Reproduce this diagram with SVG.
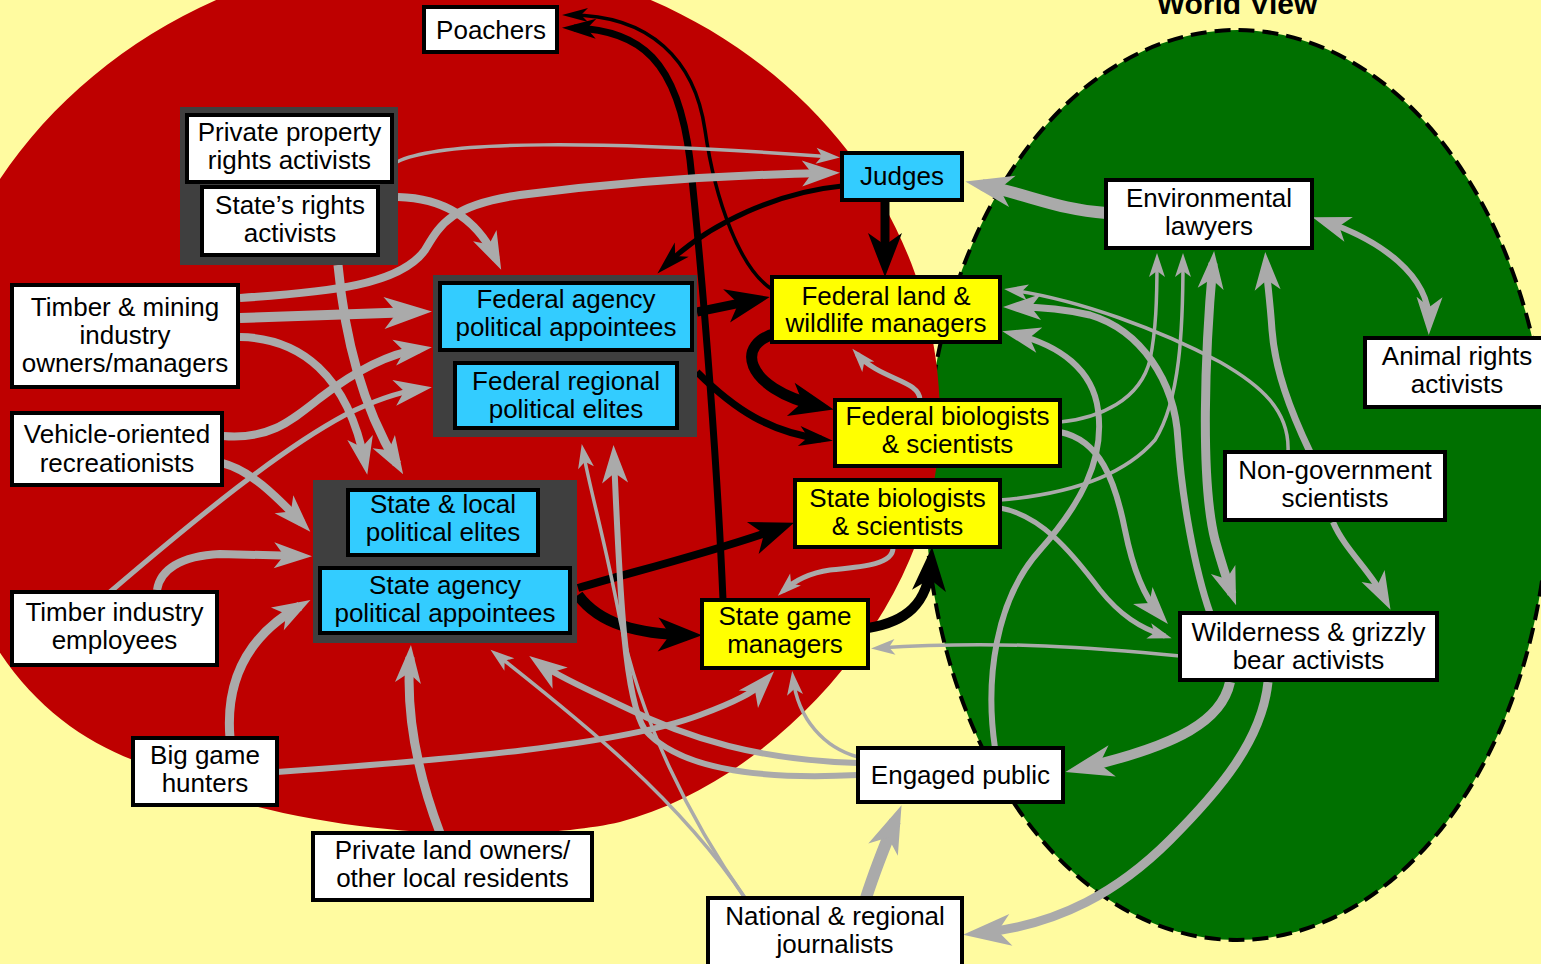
<svg xmlns="http://www.w3.org/2000/svg" width="1541" height="964" viewBox="0 0 1541 964">
<style>
.bg{fill:#FFFBA0}
.node rect{stroke:#000;stroke-width:4}
.w{fill:#FFFFFF}
.c{fill:#33CCFF}
.y{fill:#FFFF00}
.grp{fill:#3F3F3F}
text{font-family:"Liberation Sans",Arial,sans-serif;font-size:26px;text-anchor:middle;fill:#000}
.title{font-weight:bold;font-size:30px}
#connectors path{fill:none}
.g{stroke:#AAAAAA}
.k{stroke:#000000}
.s3{stroke-width:3.5}.s5{stroke-width:5}.s6{stroke-width:6}.s7{stroke-width:7}.s8{stroke-width:8}.s9{stroke-width:9}.s10{stroke-width:10}.s11{stroke-width:11}.s12{stroke-width:12}
</style>
<defs>
<marker id="gS" markerUnits="userSpaceOnUse" viewBox="-26 -10 28 20" markerWidth="28" markerHeight="20" refX="-7" refY="0" orient="auto-start-reverse" overflow="visible"><path d="M0,0 L-24,-8 L-18,0 L-24,8 Z" fill="#AAAAAA"/></marker>
<marker id="gM" markerUnits="userSpaceOnUse" viewBox="-40 -15 42 30" markerWidth="42" markerHeight="30" refX="-12" refY="0" orient="auto-start-reverse" overflow="visible"><path d="M0,0 L-38,-13 L-28,0 L-38,13 Z" fill="#AAAAAA"/></marker>
<marker id="gL" markerUnits="userSpaceOnUse" viewBox="-50 -18 52 36" markerWidth="52" markerHeight="36" refX="-17" refY="0" orient="auto-start-reverse" overflow="visible"><path d="M0,0 L-48,-16 L-35,0 L-48,16 Z" fill="#AAAAAA"/></marker>
<marker id="bS" markerUnits="userSpaceOnUse" viewBox="-28 -9 30 18" markerWidth="30" markerHeight="18" refX="-8" refY="0" orient="auto-start-reverse" overflow="visible"><path d="M0,0 L-26,-7 L-19,0 L-26,7 Z" fill="#000"/></marker>
<marker id="bM" markerUnits="userSpaceOnUse" viewBox="-36 -12 38 24" markerWidth="38" markerHeight="24" refX="-12" refY="0" orient="auto-start-reverse" overflow="visible"><path d="M0,0 L-34,-10 L-25,0 L-34,10 Z" fill="#000"/></marker>
<marker id="bL" markerUnits="userSpaceOnUse" viewBox="-46 -19 48 38" markerWidth="48" markerHeight="38" refX="-15" refY="0" orient="auto-start-reverse" overflow="visible"><path d="M0,0 L-44,-17 L-32,0 L-44,17 Z" fill="#000"/></marker>
</defs>
<rect class="bg" x="0" y="0" width="1541" height="964"/>
<ellipse cx="1237" cy="485" rx="312" ry="455" fill="#007000" stroke="#000" stroke-width="4" stroke-dasharray="16 8"/>
<path d="M-70,400 C-70,170 150,-40 420,-45 C700,-50 940,150 940,420 C940,600 780,780 620,822 C520,845 280,840 133,760 C30,720 -60,620 -70,400 Z" fill="#BE0000"/>
<text class="title" x="1237" y="14">World View</text>
<g id="connectors">
<path class="k s7" d="M723,600 C718,480 705,300 690,160 C678,60 640,30 574,28" marker-end="url(#bM)"/>
<path class="k s3" d="M773,290 C740,270 715,200 705,130 C695,60 650,15 570,15" marker-end="url(#bS)"/>
<path class="k s9" d="M885,201 L885,262" marker-end="url(#bL)"/>
<path class="k s5" d="M842,186 C780,192 710,222 666,265" marker-end="url(#bM)"/>
<path class="k s9" d="M697,312 L755,300" marker-end="url(#bL)"/>
<path class="k s11" d="M778,333 C735,342 742,388 819,406" marker-end="url(#bL)"/>
<path class="k s7" d="M697,372 C735,410 770,432 821,439" marker-end="url(#bM)"/>
<path class="k s8" d="M578,588 C640,570 720,550 780,528" marker-end="url(#bL)"/>
<path class="k s11" d="M578,595 C600,625 640,634 687,635" marker-end="url(#bL)"/>
<path class="k s10" d="M868,628 C905,622 928,605 931,562" marker-end="url(#bL)"/>
<path class="g s3" d="M397,162 C440,140 600,140 833,157" marker-end="url(#gS)"/>
<path class="g s8" d="M240,298 C330,292 400,285 425,250 C440,225 450,205 520,195 C620,182 720,175 828,173" marker-end="url(#gM)"/>
<path class="g s8" d="M398,197 C440,198 475,215 496,259" marker-end="url(#gM)"/>
<path class="g s9" d="M338,265 C345,340 362,405 397,464" marker-end="url(#gM)"/>
<path class="g s8" d="M240,337 C300,338 348,375 365,463" marker-end="url(#gM)"/>
<path class="g s10" d="M240,318 L415,312" marker-end="url(#gL)"/>
<path class="g s8" d="M223,436 C270,440 292,420 320,398 C350,375 385,354 420,349" marker-end="url(#gM)"/>
<path class="g s5" d="M110,592 C200,515 280,450 345,415 C375,400 400,392 420,389" marker-end="url(#gM)"/>
<path class="g s8" d="M222,463 C250,470 275,495 302,523" marker-end="url(#gM)"/>
<path class="g s8" d="M157,590 C160,570 180,556 220,554 L300,556" marker-end="url(#gM)"/>
<path class="g s9" d="M230,738 C226,690 240,640 300,606" marker-end="url(#gM)"/>
<path class="g s6" d="M277,772 C450,760 620,745 700,715 C735,702 755,692 766,680" marker-end="url(#gM)"/>
<path class="g s9" d="M440,833 C420,780 405,720 410,657" marker-end="url(#gM)"/>
<path class="g s3" d="M745,898 C680,800 580,720 496,654" marker-end="url(#gS)"/>
<path class="g s3" d="M745,898 C690,820 640,720 620,620 C605,540 590,490 583,451" marker-end="url(#gS)"/>
<path class="g s6" d="M858,763 C760,760 690,740 620,705 C590,690 560,678 539,663" marker-end="url(#gM)"/>
<path class="g s6" d="M858,775 C760,780 680,770 645,730 C625,700 620,600 614,457" marker-end="url(#gM)"/>
<path class="g s3" d="M858,757 C825,748 798,720 793,678" marker-end="url(#gS)"/>
<path class="g s3" d="M1180,656 C1100,648 1000,640 878,648" marker-end="url(#gS)"/>
<path class="g s5" d="M893,548 C893,565 860,567 830,570 C810,573 795,580 783,591" marker-end="url(#gS)"/>
<path class="g s5" d="M920,400 C920,380 880,380 857,354" marker-end="url(#gS)"/>
<path class="g s12" d="M1106,213 C1060,210 1030,195 982,185" marker-end="url(#gL)"/>
<path class="g s6" d="M1324,221 C1380,240 1430,275 1429,323" marker-start="url(#gM)" marker-end="url(#gM)"/>
<path class="g s3" d="M1060,422 C1100,418 1140,400 1150,360 C1156,330 1157,300 1157,260" marker-end="url(#gS)"/>
<path class="g s3" d="M1000,500 C1060,495 1120,480 1155,440 C1180,400 1183,330 1183,260" marker-end="url(#gS)"/>
<path class="g s9" d="M1213,263 C1205,350 1200,480 1215,540 C1222,565 1228,583 1232,594" marker-start="url(#gM)" marker-end="url(#gM)"/>
<path class="g s7" d="M1310,452 C1290,410 1275,370 1272,330 C1270,300 1267,280 1266,264" marker-end="url(#gM)"/>
<path class="g s3" d="M1288,452 C1290,410 1260,385 1220,362 C1160,330 1080,300 1011,290" marker-end="url(#gS)"/>
<path class="g s7" d="M1210,613 C1195,570 1182,500 1178,440 C1175,380 1140,330 1090,315 C1060,308 1035,307 1015,307" marker-end="url(#gM)"/>
<path class="g s6" d="M995,748 C985,680 995,600 1040,550 C1080,505 1105,460 1098,410 C1093,370 1060,345 1014,334" marker-end="url(#gM)"/>
<path class="g s6" d="M1060,432 C1100,440 1115,480 1125,530 C1133,570 1145,598 1160,615" marker-end="url(#gM)"/>
<path class="g s5" d="M1000,508 C1040,515 1070,550 1100,590 C1120,615 1140,628 1165,636" marker-end="url(#gS)"/>
<path class="g s6" d="M1333,522 C1345,550 1370,570 1385,599" marker-end="url(#gM)"/>
<path class="g s10" d="M1230,682 C1222,720 1180,745 1082,768" marker-end="url(#gL)"/>
<path class="g s9" d="M1268,682 C1262,740 1220,790 1170,840 C1120,890 1060,925 980,933" marker-end="url(#gL)"/>
<path class="g s12" d="M866,898 C875,870 885,845 895,821" marker-end="url(#gL)"/>
</g>
<g id="poachers" class="node"><rect class="w" x="424" y="7" width="133" height="45"/><text x="491" y="39">Poachers</text></g>
<g id="activists-group" class="node"><rect class="grp" x="180" y="107" width="218" height="158" style="stroke:none"/></g>
<g id="private-property" class="node"><rect class="w" x="187" y="115" width="205" height="67"/><text x="289.5" y="141">Private property</text><text x="289.5" y="169">rights activists</text></g>
<g id="states-rights" class="node"><rect class="w" x="202" y="187" width="176" height="68"/><text x="290" y="214">State’s rights</text><text x="290" y="242">activists</text></g>
<g id="timber-mining" class="node"><rect class="w" x="12" y="285" width="226" height="102"/><text x="125" y="316">Timber &amp; mining</text><text x="125" y="344">industry</text><text x="125" y="372">owners/managers</text></g>
<g id="vehicle" class="node"><rect class="w" x="12" y="413" width="210" height="72"/><text x="117" y="443">Vehicle-oriented</text><text x="117" y="472">recreationists</text></g>
<g id="timber-employees" class="node"><rect class="w" x="12" y="592" width="205" height="73"/><text x="114.5" y="621">Timber industry</text><text x="114.5" y="649">employees</text></g>
<g id="big-game" class="node"><rect class="w" x="133" y="738" width="144" height="67"/><text x="205" y="764">Big game</text><text x="205" y="792">hunters</text></g>
<g id="private-land" class="node"><rect class="w" x="313" y="833" width="279" height="67"/><text x="452.5" y="859">Private land owners/</text><text x="452.5" y="887">other local residents</text></g>
<g id="journalists" class="node"><rect class="w" x="708" y="898" width="254" height="72"/><text x="835" y="925">National &amp; regional</text><text x="835" y="953">journalists</text></g>
<g id="engaged-public" class="node"><rect class="w" x="858" y="748" width="205" height="54"/><text x="960.5" y="784">Engaged public</text></g>
<g id="wilderness" class="node"><rect class="w" x="1180" y="613" width="257" height="67"/><text x="1308.5" y="641">Wilderness &amp; grizzly</text><text x="1308.5" y="669">bear activists</text></g>
<g id="nongov" class="node"><rect class="w" x="1225" y="452" width="220" height="68"/><text x="1335" y="479">Non-government</text><text x="1335" y="507">scientists</text></g>
<g id="animal-rights" class="node"><rect class="w" x="1365" y="338" width="184" height="69"/><text x="1457" y="365">Animal rights</text><text x="1457" y="393">activists</text></g>
<g id="env-lawyers" class="node"><rect class="w" x="1106" y="180" width="206" height="68"/><text x="1209" y="207">Environmental</text><text x="1209" y="235">lawyers</text></g>
<g id="judges" class="node"><rect class="c" x="842" y="153" width="120" height="47"/><text x="902" y="185">Judges</text></g>
<g id="fed-land" class="node"><rect class="y" x="772" y="277" width="228" height="65"/><text x="886" y="305">Federal land &amp;</text><text x="886" y="332">wildlife managers</text></g>
<g id="fed-bio" class="node"><rect class="y" x="835" y="400" width="225" height="66"/><text x="947.5" y="425">Federal biologists</text><text x="947.5" y="453">&amp; scientists</text></g>
<g id="state-bio" class="node"><rect class="y" x="795" y="480" width="205" height="67"/><text x="897.5" y="507">State biologists</text><text x="897.5" y="535">&amp; scientists</text></g>
<g id="state-game" class="node"><rect class="y" x="702" y="600" width="166" height="68"/><text x="785" y="625">State game</text><text x="785" y="653">managers</text></g>
<g id="federal-group" class="node"><rect class="grp" x="433" y="275" width="264" height="162" style="stroke:none"/></g>
<g id="fed-agency" class="node"><rect class="c" x="440" y="283" width="252" height="67"/><text x="566" y="308">Federal agency</text><text x="566" y="336">political appointees</text></g>
<g id="fed-regional" class="node"><rect class="c" x="455" y="363" width="222" height="65"/><text x="566" y="390">Federal regional</text><text x="566" y="418">political elites</text></g>
<g id="state-group" class="node"><rect class="grp" x="313" y="480" width="264" height="163" style="stroke:none"/></g>
<g id="state-local" class="node"><rect class="c" x="348" y="490" width="190" height="65"/><text x="443" y="513">State &amp; local</text><text x="443" y="541">political elites</text></g>
<g id="state-agency" class="node"><rect class="c" x="320" y="568" width="250" height="65"/><text x="445" y="594">State agency</text><text x="445" y="622">political appointees</text></g>
</svg>
